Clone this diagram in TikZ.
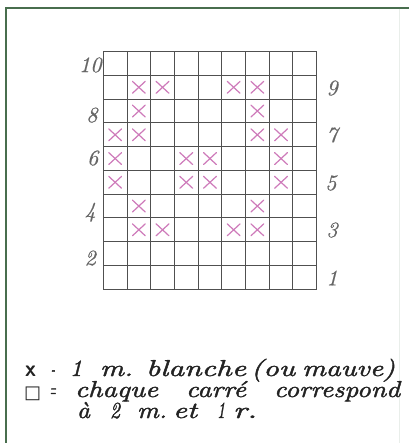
\documentclass[tikz,border=0pt]{standalone}
\usepackage{fontspec}
\usepackage{graphicx}
\newfontfamily\symfont{DejaVu Sans}
\newfontfamily\handfont{lmroman10-italic.otf}[FakeBold=1.6]
\newfontfamily\labfont{lmroman10-italic.otf}[FakeBold=0.6]
\definecolor{framec}{RGB}{72,110,78}
\definecolor{mauve}{RGB}{206,122,186}
\definecolor{gridc}{RGB}{80,80,80}
\definecolor{inkc}{RGB}{35,35,35}
\newcommand{\fitw}[2]{\resizebox{#1pt}{\height}{#2}}
\begin{document}
\begin{tikzpicture}[x=1pt,y=1pt,
  word/.style={anchor=base west, inner sep=0pt, outer sep=0pt,
    font=\fontsize{23}{26}\selectfont\handfont, text=inkc},
  lab/.style={inner sep=0pt, font=\fontsize{22}{24}\selectfont\labfont, text=black!60},
  crossmark/.style={draw=mauve, line width=1.2pt, line cap=round},
  gridline/.style={draw=gridc, line width=1pt}]
\useasboundingbox (0,0) rectangle (409,-443);
\fill[white] (0,0) rectangle (409,-443);
% frame
\draw[framec, line width=2pt] (6,-443) -- (6,-8) -- (409,-8);
\draw[framec!12, line width=0.8pt] (399,-9) -- (399,-443);
% grid
\begin{scope}[shift={(103.3,-51.7)}, x=23.7pt, y=-23.75pt]
  \foreach \i in {0,...,9} \draw[gridline] (\i,0) -- (\i,10);
  \foreach \j in {0,...,10} \draw[gridline] (0,\j) -- (9,\j);
  \foreach \c/\r in {2/2,3/2,6/2,7/2, 2/3,7/3, 1/4,2/4,7/4,8/4,
                     1/5,4/5,5/5,8/5, 1/6,4/6,5/6,8/6, 2/7,7/7,
                     2/8,3/8,6/8,7/8}{
    \draw[crossmark] (\c-0.5-0.27,\r-0.5-0.25) -- (\c-0.5+0.27,\r-0.5+0.25);
    \draw[crossmark] (\c-0.5-0.27,\r-0.5+0.25) -- (\c-0.5+0.27,\r-0.5-0.25);
  }
  \node[lab] (l10) at (-0.55,0.56) {10};
  \node[lab] (l8) at (-0.48,2.67) {8};
  \node[lab] (l6) at (-0.45,4.48) {6};
  \node[lab] (l4) at (-0.55,6.76) {4};
  \node[lab] (l2) at (-0.55,8.69) {2};
  \node[lab] (r9) at (9.65,1.53) {9};
  \node[lab] (r7) at (9.65,3.51) {7};
  \node[lab] (r5) at (9.6,5.53) {5};
  \node[lab] (r3) at (9.65,7.51) {3};
  \node[lab] (r1) at (9.65,9.53) {1};
\end{scope}
% legend line 1
\node[word] (x1) at (25,-376) {\fitw{11}{\upshape\sffamily\bfseries x}};
\node[word] (d1) at (51,-376) {\fitw{4}{-}};
\node[word] (a1) at (70,-376) {\fitw{12}{1}};
\node[word] (a2) at (100,-376) {\fitw{33}{m.}};
\node[word] (a3) at (146,-376) {\fitw{100}{blanche}};
\node[word] (a4) at (251,-376) {\fitw{44}{(ou}};
\node[word] (a5) at (302,-376) {\fitw{93}{mauve)}};
% legend line 2
\node[word] (sq) at (24,-398.5) {\resizebox{17pt}{!}{\upshape\symfont □}};
\node[word] (eq) at (50,-397) {\fitw{6}{\upshape =}};
\node[word] (b1) at (75,-397) {\fitw{83}{chaque}};
\node[word] (b2) at (186,-397) {\fitw{60}{carré}};
\node[word] (b3) at (274,-397) {\fitw{126}{correspond}};
% legend line 3
\node[word] (c1) at (77,-418) {\fitw{13}{à}};
\node[word] (c2) at (110,-418) {\fitw{10}{2}};
\node[word] (c3) at (137,-418) {\fitw{30}{m.}};
\node[word] (c4) at (173,-418) {\fitw{24}{et}};
\node[word] (c5) at (217,-418) {\fitw{8}{1}};
\node[word] (c6) at (233,-418) {\fitw{24}{r.}};
\end{tikzpicture}
\end{document}
